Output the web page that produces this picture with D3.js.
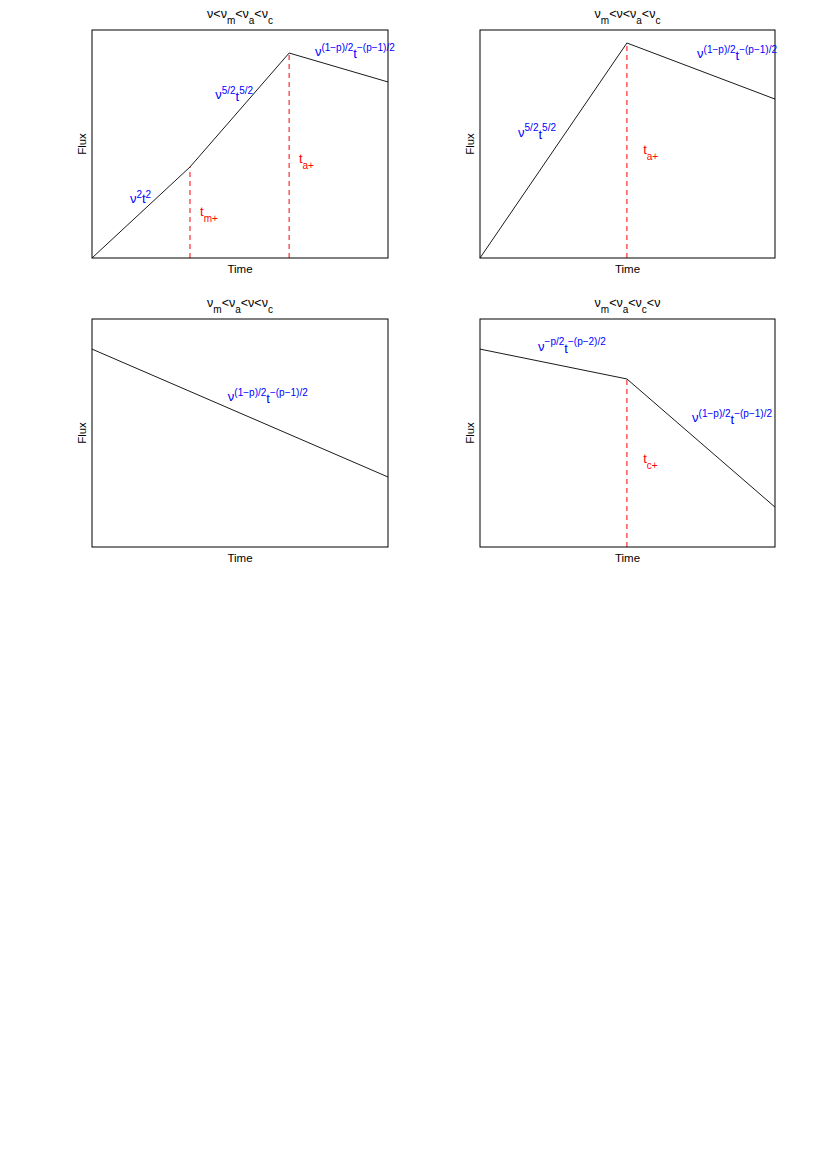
<!DOCTYPE html>
<html>
<head>
<meta charset="utf-8">
<script src="https://cdn.jsdelivr.net/npm/d3@7"></script>
<style>
  body { margin: 0; background: #fff; }
  text { font-family: "Liberation Sans", Arial, Helvetica, sans-serif; }
</style>
</head>
<body>
<div id="chart"></div>
<script>
// light curve sketches, time and flux in arbitrary (log) units 0..1
const fluxSlow1 = [{t: 0, f: 0}, {t: 0.331, f: 0.399}, {t: 0.666, f: 0.899}, {t: 1, f: 0.772}];
const fluxSlow2 = [{t: 0, f: 0}, {t: 0.498, f: 0.943}, {t: 1, f: 0.697}];
const fluxSlow3 = [{t: 0, f: 0.868}, {t: 1, f: 0.307}];
const fluxSlow4 = [{t: 0, f: 0.868}, {t: 0.498, f: 0.737}, {t: 1, f: 0.175}];

// break times (dashed lines)
const breaks1 = [0.331, 0.666];
const breaks2 = [0.498];
const breaks3 = [];
const breaks4 = [0.498];

// titles as [text, shift] pieces
const titles = [
  [['ν<ν', ''], ['m', 'sub'], ['<ν', ''], ['a', 'sub'], ['<ν', ''], ['c', 'sub']],
  [['ν', ''], ['m', 'sub'], ['<ν<ν', ''], ['a', 'sub'], ['<ν', ''], ['c', 'sub']],
  [['ν', ''], ['m', 'sub'], ['<ν', ''], ['a', 'sub'], ['<ν<ν', ''], ['c', 'sub']],
  [['ν', ''], ['m', 'sub'], ['<ν', ''], ['a', 'sub'], ['<ν', ''], ['c', 'sub'], ['<ν', '']]
];

const lawNu2 = [['ν', ''], ['2', 'sup'], ['t', ''], ['2', 'sup']];
const lawNu52 = [['ν', ''], ['5/2', 'sup'], ['t', 'low'], ['5/2', 'sup']];
const lawThin = [['ν', ''], ['(1−p)/2', 'sup'], ['t', 'low'], ['−(p−1)/2', 'sup']];
const lawCool = [['ν', ''], ['−p/2', 'sup'], ['t', 'low'], ['−(p−2)/2', 'sup']];
const tm = [['t', ''], ['m+', 'sub']];
const ta = [['t', ''], ['a+', 'sub']];
const tc = [['t', ''], ['c+', 'sub']];

// labels: [pieces, t, f, colour]
const labels1 = [[lawNu2, 0.128, 0.241, 'blue'], [lawNu52, 0.416, 0.697, 'blue'],
                 [lawThin, 0.753, 0.886, 'blue'], [tm, 0.365, 0.184, 'red'], [ta, 0.699, 0.417, 'red']];
const labels2 = [[lawNu52, 0.129, 0.531, 'blue'], [ta, 0.553, 0.456, 'red'], [lawThin, 0.736, 0.877, 'blue']];
const labels3 = [[lawThin, 0.459, 0.640, 'blue']];
const labels4 = [[lawCool, 0.197, 0.860, 'blue'], [lawThin, 0.719, 0.548, 'blue'], [tc, 0.553, 0.368, 'red']];

const panels = [
  {data: fluxSlow1, breaks: breaks1, labels: labels1, title: titles[0], left: 92, top: 30, w: 296, h: 228},
  {data: fluxSlow2, breaks: breaks2, labels: labels2, title: titles[1], left: 480, top: 30, w: 295, h: 228},
  {data: fluxSlow3, breaks: breaks3, labels: labels3, title: titles[2], left: 92, top: 319, w: 296, h: 228},
  {data: fluxSlow4, breaks: breaks4, labels: labels4, title: titles[3], left: 480, top: 319, w: 295, h: 228}
];

const svg = d3.select('#chart').append('svg')
    .attr('width', 830)
    .attr('height', 1175);

function writePieces(sel, pieces, size, small) {
  let off = 0;
  pieces.forEach(p => {
    let target = 0;
    if (p[1] === 'sup') target = -size * 0.42;
    if (p[1] === 'sub') target = size * 0.45;
    if (p[1] === 'low') target = size * 0.18;
    sel.append('tspan')
        .attr('dy', target - off)
        .style('font-size', (p[1] === 'sup' || p[1] === 'sub') ? small + 'px' : size + 'px')
        .text(p[0]);
    off = target;
  });
}

panels.forEach(p => {
  const g = svg.append('g').attr('transform', `translate(${p.left},${p.top})`);
  const x = d3.scaleLinear().domain([0, 1]).range([0, p.w]);
  const y = d3.scaleLinear().domain([0, 1]).range([p.h, 0]);

  // dashed break lines
  p.breaks.forEach(b => {
    const bi = d3.bisector(d => d.t).left;
    const pt = p.data.find(d => Math.abs(d.t - b) < 1e-6) || p.data[bi(p.data, b)];
    g.append('line')
        .attr('x1', x(b)).attr('x2', x(b))
        .attr('y1', y(0)).attr('y2', y(pt.f))
        .attr('stroke', '#ff0000')
        .attr('stroke-width', 1)
        .attr('stroke-dasharray', '5,4');
  });

  g.append('path')
      .datum(p.data)
      .attr('fill', 'none')
      .attr('stroke', '#000')
      .attr('stroke-width', 0.9)
      .attr('d', d3.line().x(d => x(d.t)).y(d => y(d.f)));

  g.append('rect')
      .attr('x', 0).attr('y', 0)
      .attr('width', p.w).attr('height', p.h)
      .attr('fill', 'none')
      .attr('stroke', '#000')
      .attr('stroke-width', 1);

  const title = g.append('text')
      .attr('x', p.w / 2)
      .attr('y', -12)
      .attr('text-anchor', 'middle');
  writePieces(title, p.title, 12.5, 10);

  g.append('text')
      .attr('x', p.w / 2)
      .attr('y', p.h + 15)
      .attr('text-anchor', 'middle')
      .style('font-size', '11.5px')
      .text('Time');

  g.append('text')
      .attr('transform', `translate(-6,${p.h / 2}) rotate(-90)`)
      .attr('text-anchor', 'middle')
      .style('font-size', '11.5px')
      .text('Flux');

  p.labels.forEach(l => {
    const t = g.append('text')
        .attr('x', x(l[1]))
        .attr('y', y(l[2]))
        .attr('fill', l[3] === 'blue' ? '#0000ff' : '#ff0000');
    writePieces(t, l[0], 13, 10);
  });
});
</script>
</body>
</html>
